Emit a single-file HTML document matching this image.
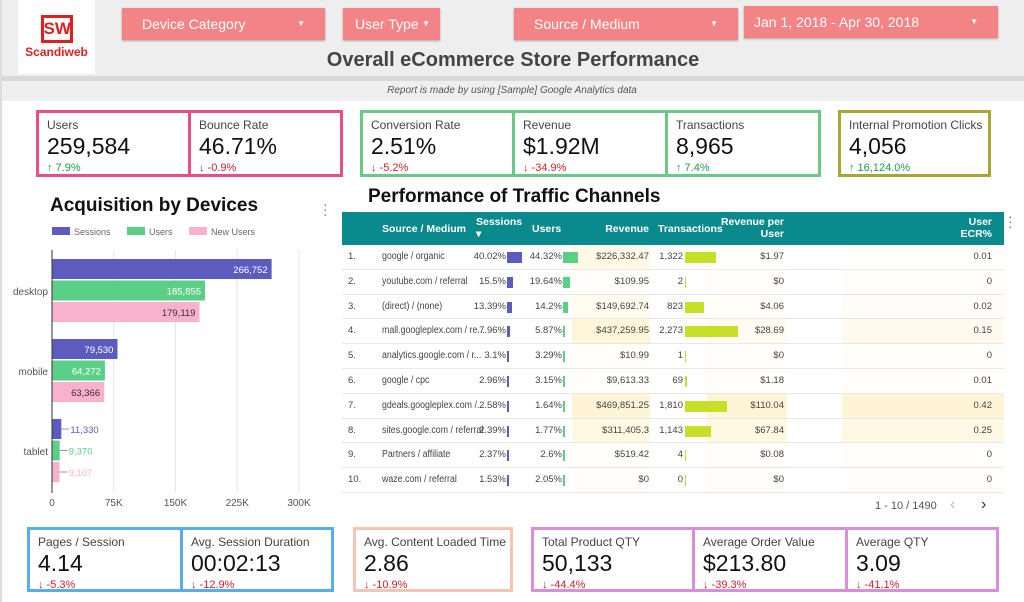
<!DOCTYPE html>
<html><head><meta charset="utf-8">
<style>
*{box-sizing:border-box;margin:0;padding:0}
body{width:1024px;height:602px;overflow:hidden;background:#fff;font-family:"Liberation Sans",sans-serif;position:relative;color:#222}
.abs{position:absolute}
.filter{position:absolute;background:#f48385;color:#fff;font-size:14px;padding-left:20px;line-height:32px;box-shadow:0 1px 2px rgba(0,0,0,.3);white-space:nowrap}
.filter .ar{position:absolute;right:20px;top:0;font-size:8px}
.kpi{position:absolute;border:3px solid;background:#fff;padding:5px 0 0 8px}
.kpi .l{font-size:12px;color:#444}
.kpi .v{font-size:23px;color:#111;margin-top:1px;line-height:26px}
.kpi .d{font-size:11px;margin-top:3px}
.up{color:#1e9e4a}.dn{color:#d0222a}
</style></head><body>
<div class="abs" style="left:0;top:0;width:1024px;height:78px;background:#eeeeee"></div>
<div class="abs" style="left:0;top:76px;width:1024px;height:5px;background:#d9d9d9"></div>
<div class="abs" style="left:0;top:81px;width:1024px;height:20px;background:#efefef;font-size:10px;font-style:italic;color:#555;text-align:center;line-height:20px">Report is made by using [Sample] Google Analytics data</div>
<div class="abs" style="left:0;top:0;width:2px;height:602px;background:#ddd"></div>
<div class="abs" style="left:18px;top:0;width:77px;height:74px;background:#fff;text-align:center">
  <div style="margin:15px auto 0;width:32px;height:28px;border:3px solid #e02020;color:#e02020;font-weight:bold;font-size:17px;line-height:22px">SW</div>
  <div style="color:#e02020;font-weight:bold;font-size:12px;margin-top:2px">Scandiweb</div>
</div>
<div class="filter" style="left:122px;top:8px;width:203px;height:32px">Device Category<span class="ar">▼</span></div>
<div class="filter" style="left:343px;top:8px;width:97px;height:32px;padding-left:12px">User Type<span class="ar" style="right:10px">▼</span></div>
<div class="filter" style="left:514px;top:8px;width:224px;height:32px">Source / Medium<span class="ar">▼</span></div>
<div class="filter" style="left:744px;top:6px;width:254px;height:32px;padding-left:10px">Jan 1, 2018 - Apr 30, 2018<span class="ar">▼</span></div>
<div class="abs" style="left:0;top:49px;width:1026px;text-align:center;font-size:20px;font-weight:bold;color:#444">Overall eCommerce Store Performance</div>

<div class="kpi" style="left:36px;top:110px;width:155px;height:67px;border-color:#e94e8a"><div class="l">Users</div><div class="v">259,584</div><div class="d up">↑ 7.9%</div></div>
<div class="kpi" style="left:188px;top:110px;width:155px;height:67px;border-color:#e94e8a"><div class="l">Bounce Rate</div><div class="v">46.71%</div><div class="d dn">↓ -0.9%</div></div>
<div class="kpi" style="left:360px;top:110px;width:155px;height:67px;border-color:#6cc887"><div class="l">Conversion Rate</div><div class="v">2.51%</div><div class="d dn">↓ -5.2%</div></div>
<div class="kpi" style="left:512px;top:110px;width:156px;height:67px;border-color:#6cc887"><div class="l">Revenue</div><div class="v">$1.92M</div><div class="d dn">↓ -34.9%</div></div>
<div class="kpi" style="left:665px;top:110px;width:156px;height:67px;border-color:#6cc887"><div class="l">Transactions</div><div class="v">8,965</div><div class="d up">↑ 7.4%</div></div>
<div class="kpi" style="left:838px;top:110px;width:153px;height:67px;border-color:#a9a633"><div class="l">Internal Promotion Clicks</div><div class="v">4,056</div><div class="d up">↑ 16,124.0%</div></div>

<div class="kpi" style="left:27px;top:527px;width:156px;height:65px;border-color:#5aaee8"><div class="l">Pages / Session</div><div class="v">4.14</div><div class="d dn">↓ -5.3%</div></div>
<div class="kpi" style="left:180px;top:527px;width:154px;height:65px;border-color:#5aaee8"><div class="l">Avg. Session Duration</div><div class="v">00:02:13</div><div class="d dn">↓ -12.9%</div></div>
<div class="kpi" style="left:353px;top:527px;width:160px;height:65px;border-color:#f4c4b4"><div class="l">Avg. Content Loaded Time</div><div class="v">2.86</div><div class="d dn">↓ -10.9%</div></div>
<div class="kpi" style="left:531px;top:527px;width:164px;height:65px;border-color:#d88fd8"><div class="l">Total Product QTY</div><div class="v">50,133</div><div class="d dn">↓ -44.4%</div></div>
<div class="kpi" style="left:692px;top:527px;width:156px;height:65px;border-color:#d88fd8"><div class="l">Average Order Value</div><div class="v">$213.80</div><div class="d dn">↓ -39.3%</div></div>
<div class="kpi" style="left:845px;top:527px;width:154px;height:65px;border-color:#d88fd8"><div class="l">Average QTY</div><div class="v">3.09</div><div class="d dn">↓ -41.1%</div></div>

<div class="abs" style="left:50px;top:195px;font-size:19px;font-weight:bold;color:#111">Acquisition by Devices</div>
<div class="abs" style="left:323px;top:202px;font-size:14px;color:#777;line-height:5px">·<br>·<br>·</div>
<svg class="abs" id="chart" style="left:0;top:220px" width="340" height="300" font-family="Liberation Sans, sans-serif"></svg>

<div class="abs" style="left:368px;top:186px;font-size:19px;font-weight:bold;color:#111">Performance of Traffic Channels</div>
<div class="abs" style="left:1008px;top:214px;font-size:14px;color:#777;line-height:5px">·<br>·<br>·</div>
<div class="abs" id="tbl" style="left:342px;top:212px;width:662px;height:281px"></div>
<div class="abs" style="left:875px;top:500px;font-size:11px;color:#555">1 - 10 / 1490</div>
<div class="abs" style="left:950px;top:496px;font-size:16px;color:#bbb">‹</div>
<div class="abs" style="left:981px;top:496px;font-size:16px;color:#333">›</div>

<script>
const devices=["desktop","mobile","tablet"];
const sessions=[266752,79530,11330];
const users=[185855,64272,9370];
const newUsers=[179119,63366,9107];
const ticks=[0,75000,150000,225000,300000];
const tickLabels=["0","75K","150K","225K","300K"];
const NS="http://www.w3.org/2000/svg";
const svg=document.getElementById('chart');
function mk(t,a,txt){const e=document.createElementNS(NS,t);for(const k in a)e.setAttribute(k,a[k]);if(txt!==undefined)e.textContent=txt;svg.appendChild(e);return e;}
const x0=52,xs=v=>x0+v*(247/300000);
const y0=37;
const series=[{v:sessions,c:"#5c5cc0",name:"Sessions",lc:"#fff",oc:"#5c5cc0"},{v:users,c:"#5ccf86",name:"Users",lc:"#fff",oc:"#5ccf86"},{v:newUsers,c:"#f9b2cb",name:"New Users",lc:"#333",oc:"#f9b2cb"}];
const lx=[52,127,189];
series.forEach((s,i)=>{
  let r=mk('rect',{x:lx[i],y:7,width:18,height:8,fill:s.c});
  
  
  let t=mk('text',{x:lx[i]+22,y:15,'font-size':9,fill:'#666'},s.name);
  
  
});
ticks.forEach((t,i)=>{
  if(i>0){let g=mk('line',{x1:xs(t),x2:xs(t),y1:30,y2:272,stroke:'#e6e6e6'});
    
    }
  let l=mk('text',{x:xs(t),y:286,'font-size':10,fill:'#555','text-anchor':'middle'},tickLabels[i]);
  
  
});
devices.forEach((d,i)=>{
  const gy=y0+i*80;
  let l=mk('text',{x:48,y:gy+38,'font-size':10,fill:'#555','text-anchor':'end'},d);
  
  
  series.forEach((s,j)=>{
    const y=gy+2+j*21.5,w=xs(s.v[i])-x0;
    let r=mk('rect',{x:x0,y:y,width:w,height:20,fill:s.c});
    
    
    const lab=s.v[i].toLocaleString('en-US');
    let t;
    if(w>40){t=mk('text',{x:x0+w-4,y:y+14,'font-size':9.5,fill:s.lc,'text-anchor':'end'},lab);}
    else{mk('line',{x1:x0+w,x2:x0+w+8,y1:y+10,y2:y+10,stroke:'#999'});t=mk('text',{x:x0+w+9,y:y+14,'font-size':9.5,fill:s.oc},lab);}
    
    
  });
});
mk('line',{x1:x0,x2:x0,y1:30,y2:273,stroke:'#333'});

const sources=["google / organic","youtube.com / referral","(direct) / (none)","mall.googleplex.com / re...","analytics.google.com / r...","google / cpc","gdeals.googleplex.com /...","sites.google.com / referral","Partners / affiliate","waze.com / referral"];
const sessPct=[40.02,15.5,13.39,7.96,3.1,2.96,2.58,2.39,2.37,1.53];
const userPct=[44.32,19.64,14.2,5.87,3.29,3.15,1.64,1.77,2.6,2.05];
const revenue=["$226,332.47","$109.95","$149,692.74","$437,259.95","$10.99","$9,613.33","$469,851.25","$311,405.3","$519.42","$0"];
const revenueVal=[226332,110,149693,437260,11,9613,469851,311405,519,0];
const transactions=[1322,2,823,2273,1,69,1810,1143,4,0];
const revPerUser=["$1.97","$0","$4.06","$28.69","$0","$1.18","$110.04","$67.84","$0.08","$0"];
const revPerUserVal=[1.97,0,4.06,28.69,0,1.18,110.04,67.84,0.08,0];
const ecr=[0.01,0,0.02,0.15,0,0.01,0.42,0.25,0,0];
const T=document.getElementById('tbl');
function heat(v,max){const a=Math.min(1,v/max);return `rgba(255,236,180,${0.06+0.5*a})`;}
let h=`<div style="position:absolute;left:0;top:0;width:662px;height:33px;background:#0b8a8e;color:#fff;font-size:10.5px;font-weight:bold;white-space:nowrap">
<span style="position:absolute;left:40px;top:11px">Source / Medium</span>
<span style="position:absolute;left:134px;top:4px">Sessions<br>▾</span>
<span style="position:absolute;top:11px;left:190px">Users</span>
<span style="position:absolute;right:355px;top:11px">Revenue</span>
<span style="position:absolute;left:316px;top:11px">Transactions</span>
<span style="position:absolute;right:220px;top:4px;text-align:right">Revenue per<br>User</span>
<span style="position:absolute;right:12px;top:4px;text-align:right">User<br>ECR%</span></div>`;
sources.forEach((s,i)=>{
  const t=33+i*24.8;
  h+=`<div style="position:absolute;left:0;top:${t}px;width:662px;height:24.8px;border-bottom:1px solid #e8e8e8;font-size:9.5px;color:#444;line-height:24px;white-space:nowrap">
<span style="position:absolute;left:230px;width:78px;top:0;height:24px;background:${heat(revenueVal[i],470000)}"></span>
<span style="position:absolute;left:365px;width:80px;top:0;height:24px;background:${heat(revPerUserVal[i],110)}"></span>
<span style="position:absolute;left:500px;width:162px;top:0;height:24px;background:${heat(ecr[i],0.42)}"></span>
<span style="position:absolute;left:6px">${i+1}.</span>
<span style="position:absolute;left:40px;font-size:10px;transform:scaleX(.88);transform-origin:left">${s}</span>
<span style="position:absolute;right:498px">${sessPct[i]}%</span>
<span style="position:absolute;left:165px;top:7px;height:11px;width:${Math.max(1.5,sessPct[i]*0.38)}px;background:#5c5cc0"></span>
<span style="position:absolute;right:442px">${userPct[i]}%</span>
<span style="position:absolute;left:221px;top:7px;height:11px;width:${Math.max(1.5,userPct[i]*0.34)}px;background:#5ccf86"></span>
<span style="position:absolute;right:355px">${revenue[i]}</span>
<span style="position:absolute;right:321px">${transactions[i].toLocaleString('en-US')}</span>
<span style="position:absolute;left:343px;top:7px;height:11px;width:${Math.max(1,transactions[i]*0.0231)}px;background:#c6e02a"></span>
<span style="position:absolute;right:220px">${revPerUser[i]}</span>
<span style="position:absolute;right:12px">${ecr[i]}</span></div>`;
});
T.innerHTML=h;
</script>
</body></html>
